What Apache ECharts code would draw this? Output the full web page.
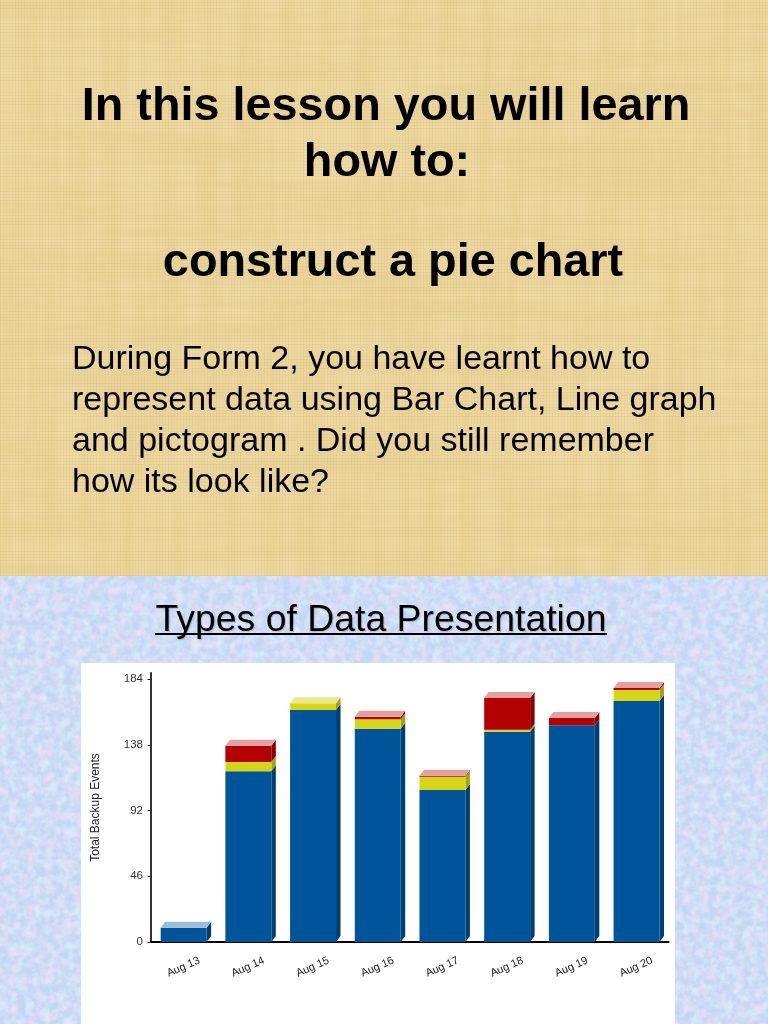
<!DOCTYPE html>
<html><head><meta charset="utf-8">
<style>
html,body{margin:0;padding:0;width:768px;height:1024px;overflow:hidden;background:#fff}
#tan,#blue{position:absolute;left:0;width:768px}
#tan{top:0;height:576px;background-color:#ecd79e;
background-image:
repeating-linear-gradient(0deg,rgba(170,130,50,.05) 0 1px,rgba(255,255,255,.03) 1px 3px),
repeating-linear-gradient(90deg,rgba(170,130,50,.05) 0 1px,rgba(255,255,255,.03) 1px 3px),
url("data:image/svg+xml;utf8,<svg xmlns='http://www.w3.org/2000/svg' width='768' height='576'><filter id='a' x='0' y='0' width='100%' height='100%'><feTurbulence type='fractalNoise' baseFrequency='0.004 0.05' numOctaves='3' seed='4'/><feColorMatrix values='0 0 0 0 0.80  0 0 0 0 0.63  0 0 0 0 0.28  1.7 0 0 0 -0.62'/></filter><filter id='b' x='0' y='0' width='100%' height='100%'><feTurbulence type='fractalNoise' baseFrequency='0.05 0.004' numOctaves='3' seed='9'/><feColorMatrix values='0 0 0 0 0.80  0 0 0 0 0.63  0 0 0 0 0.28  1.7 0 0 0 -0.62'/></filter><rect width='768' height='576' filter='url(%23a)'/><rect width='768' height='576' filter='url(%23b)'/></svg>");}
#blue{top:576px;height:448px;background-color:#c3d7f4;
background-image:
url("data:image/svg+xml;utf8,<svg xmlns='http://www.w3.org/2000/svg' width='768' height='448'><filter id='a' x='0' y='0' width='100%' height='100%'><feTurbulence type='fractalNoise' baseFrequency='0.11' numOctaves='4' seed='3'/><feColorMatrix values='0 0 0 0 0.87  0 0 0 0 0.72  0 0 0 0 0.92  2.2 0 0 0 -0.88'/></filter><filter id='b' x='0' y='0' width='100%' height='100%'><feTurbulence type='fractalNoise' baseFrequency='0.12' numOctaves='4' seed='17'/><feColorMatrix values='0 0 0 0 0.68  0 0 0 0 0.88  0 0 0 0 0.96  2.0 0 0 0 -0.85'/></filter><rect width='768' height='448' filter='url(%23a)'/><rect width='768' height='448' filter='url(%23b)'/></svg>");}
#chart{position:absolute;left:0;top:0;width:768px;height:1024px}
</style>
<script src="https://cdn.jsdelivr.net/npm/echarts@6/dist/echarts.min.js"></script>
</head><body>
<div id="tan"></div><div id="blue"></div><div id="chart"></div>
<script>
const categories = ['Aug 13','Aug 14','Aug 15','Aug 16','Aug 17','Aug 18','Aug 19','Aug 20'];
const blueValues   = [10, 119.4, 162.3, 149.2, 106.3, 147.1, 151.6, 168.6];
const yellowValues = [0, 6.6, 4.7, 6.6, 9.4, 1.4, 0, 7.7];
const redValues    = [0, 11.3, 0, 1.8, 0.7, 22.2, 5.1, 1.4];
const yTicks = [0, 46, 92, 138, 184];
const headingLines = ['In this lesson you will learn', 'how to:', 'construct a pie chart'];
const bodyLines = ['During Form 2, you have learnt how to','represent data using Bar Chart, Line graph','and pictogram . Did you still remember','how its look like?'];

const FONT = '"Liberation Sans", Arial, sans-serif';
const DX = 4.5, DY = 6;
const palette = [
  {front:'#00549a', side:'#003f72', top:'#9dbcd8'},
  {front:'#d6d619', side:'#a3a312', top:'#e9e98c'},
  {front:'#b30000', side:'#8a0000', top:'#e4a0a0'}
];
const layers = [blueValues, yellowValues, redValues];

function makeSeries(layer){
  const rows = categories.map((c,i)=>{
    let start = 0;
    for(let k=0;k<layer;k++) start += layers[k][i];
    const end = start + layers[layer][i];
    let isTop = 1;
    for(let k=layer+1;k<layers.length;k++) if(layers[k][i]>0) isTop = 0;
    return [i,start,end,isTop];
  });
  return {
    type:'custom', coordinateSystem:'cartesian2d', clip:false, silent:true,
    encode:{x:0,y:[1,2]}, data:rows, animation:false,
    renderItem(params,api){
      const s = api.value(1), e = api.value(2);
      if(e<=s) return {type:'group',children:[]};
      const a = api.coord([api.value(0),s]), b = api.coord([api.value(0),e]);
      const w = api.size([1,0])[0]*0.71;
      const l = a[0]-w/2+0.3, r = a[0]+w/2+0.3;
      const c = palette[layer];
      const kids = [
        {type:'polygon',shape:{points:[[r,a[1]],[r+DX,a[1]-DY],[r+DX,b[1]-DY],[r,b[1]]]},style:{fill:c.side}},
        {type:'rect',shape:{x:l,y:b[1],width:w,height:a[1]-b[1]},style:{fill:c.front}}
      ];
      if(api.value(3)) kids.push({type:'polygon',shape:{points:[[l,b[1]],[l+DX,b[1]-DY],[r+DX,b[1]-DY],[r,b[1]]]},style:{fill:c.top}});
      return {type:'group',children:kids};
    }
  };
}

const texts = [];
const h = (t,x,y)=>texts.push({type:'text',z:5,style:{text:t,x:x,y:y,fill:'#000',font:'bold 46.8px '+FONT,textAlign:'center',textVerticalAlign:'middle'}});
h(headingLines[0],386,107); h(headingLines[1],387,163); h(headingLines[2],393,263);
const bodyY=[360,401,442,483];
bodyLines.forEach((t,i)=>texts.push({type:'text',z:5,style:{text:t,x:72,y:bodyY[i],fill:'#000',font:'34px '+FONT,textAlign:'left',textVerticalAlign:'middle'}}));
texts.push({type:'text',z:5,style:{text:'Types of Data Presentation',x:381,y:621,fill:'#000',font:'37.4px '+FONT,textAlign:'center',textVerticalAlign:'middle',textShadowColor:'rgba(90,90,90,.3)',textShadowBlur:1,textShadowOffsetX:1,textShadowOffsetY:1}});
texts.push({type:'rect',z:5,shape:{x:155,y:633,width:452,height:2},style:{fill:'#000'}});
texts.push({type:'rect',z:-10,shape:{x:81,y:663,width:594,height:361},style:{fill:'#fff'}});

const chart = echarts.init(document.getElementById('chart'),null,{renderer:'canvas'});
chart.setOption({
  animation:false,
  backgroundColor:'transparent',
  graphic:{elements:texts},
  grid:{left:151,top:673,width:517.6,height:269,containLabel:false},
  xAxis:{type:'category',data:categories,
    axisLine:{lineStyle:{color:'#000',width:2}},
    axisTick:{alignWithLabel:true,length:4,lineStyle:{color:'#222',width:1}},
    axisLabel:{rotate:24,align:'center',verticalAlign:'middle',color:'#222',fontFamily:FONT,fontSize:11,margin:25,interval:0}},
  yAxis:{type:'value',min:0,max:188.2,
    name:'Total Backup Events',nameLocation:'middle',nameRotate:90,nameGap:43,
    nameTextStyle:{color:'#222',fontFamily:FONT,fontSize:12,padding:[0,0,6,0]},
    axisLine:{show:true,onZero:false,lineStyle:{color:'#333',width:2}},
    axisTick:{show:true,length:3.5,customValues:yTicks,lineStyle:{color:'#222'}},
    axisLabel:{color:'#333',fontFamily:FONT,fontSize:11.5,margin:8,customValues:yTicks},
    splitLine:{show:false}},
  series:[makeSeries(0),makeSeries(1),makeSeries(2)]
});
</script>
</body></html>
